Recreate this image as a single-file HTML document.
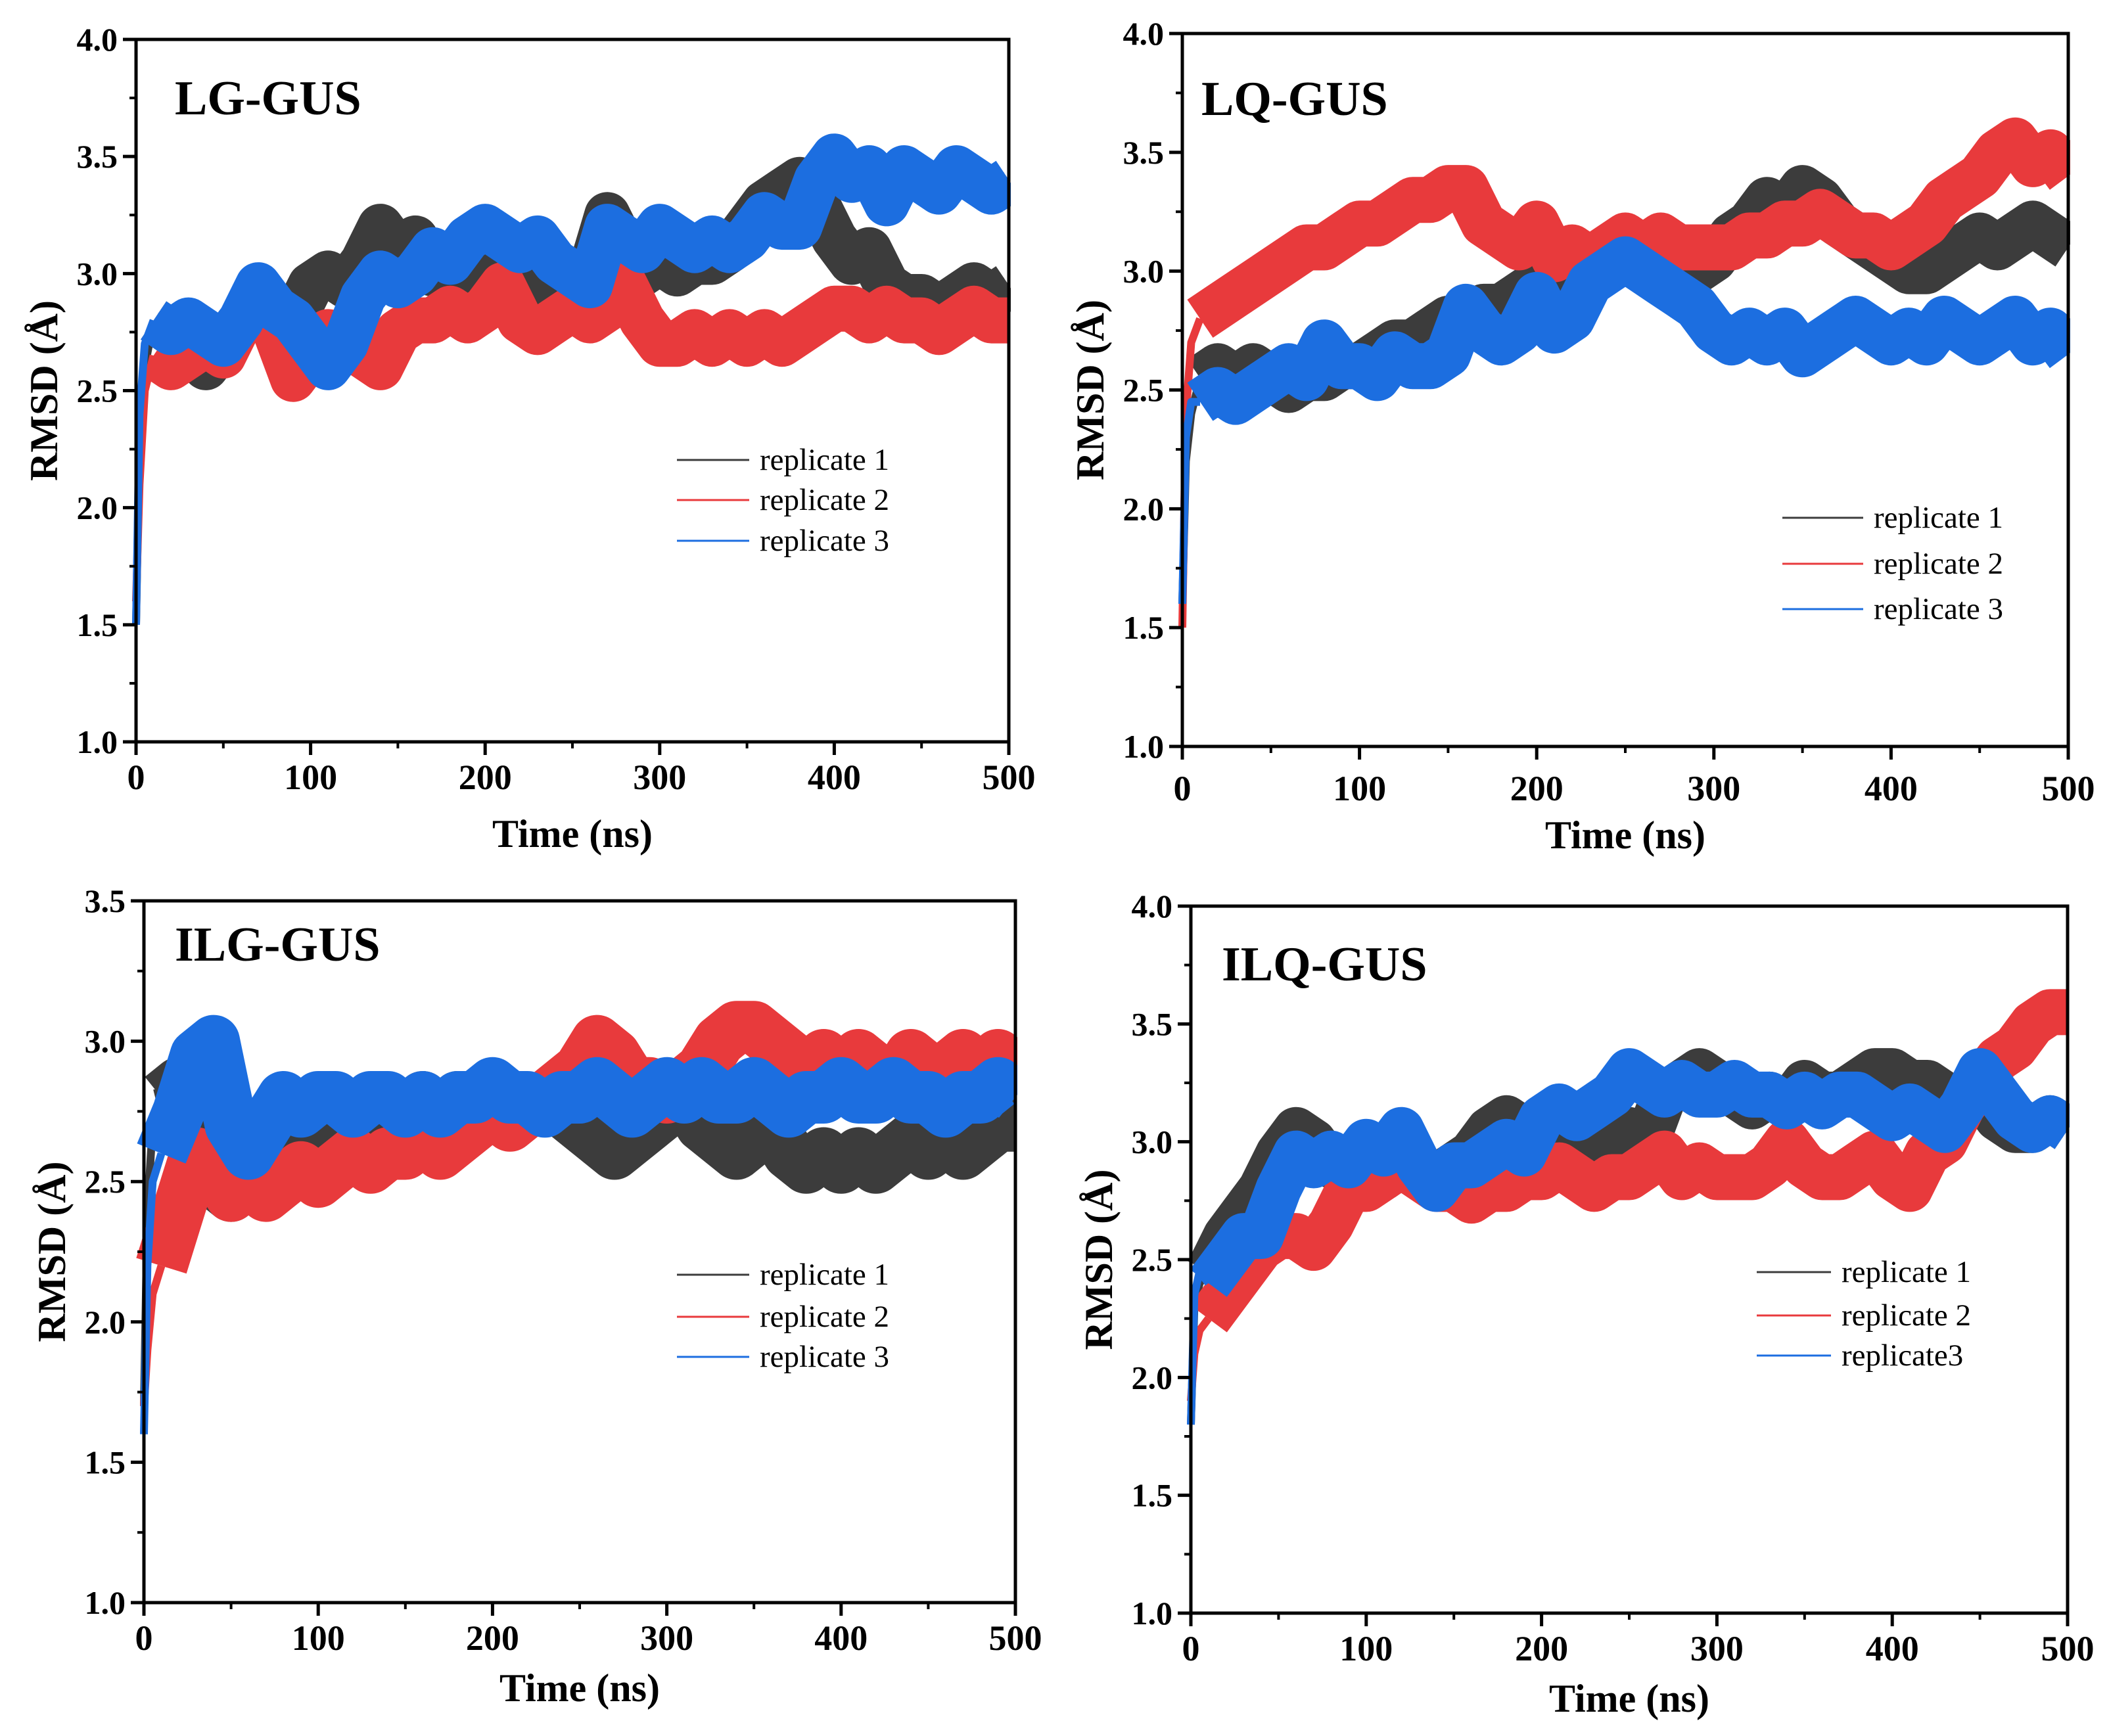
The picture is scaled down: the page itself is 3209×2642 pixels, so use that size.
<!DOCTYPE html>
<html><head><meta charset="utf-8">
<style>
html,body{margin:0;padding:0;background:#fff;}
svg{display:block;}
text{font-family:"Liberation Serif",serif;}
</style></head>
<body>
<svg id="fig" width="3209" height="2642" viewBox="0 0 3209 2642" xmlns="http://www.w3.org/2000/svg"></svg>
<script>
const times=[0,2,5,10,20,30,40,50,60,70,80,90,100,110,120,130,140,150,160,170,180,190,200,210,220,230,240,250,260,270,280,290,300,310,320,330,340,350,360,370,380,390,400,410,420,430,440,450,460,470,480,490,500];
const xTicks=[0,100,200,300,400,500];
const yTicks4=[1.0,1.5,2.0,2.5,3.0,3.5,4.0];
const yTicks35=[1.0,1.5,2.0,2.5,3.0,3.5];
const seriesNames=["replicate 1","replicate 2","replicate 3"];
const seriesNamesB=["replicate 1","replicate 2","replicate3"];
const lgGray=[1.5,2.3,2.6,2.8,2.75,2.7,2.6,2.7,2.8,2.9,2.85,2.8,2.95,3.0,2.95,3.05,3.2,3.1,3.15,3.0,3.05,3.0,3.05,3.0,2.95,2.9,3.0,2.95,3.0,3.25,3.1,3.0,3.05,3.0,3.05,3.05,3.1,3.2,3.3,3.35,3.4,3.3,3.15,3.05,3.1,2.95,2.9,2.9,2.85,2.9,2.95,2.9,2.95];
const lgRed=[1.6,2.1,2.5,2.65,2.6,2.65,2.7,2.65,2.8,2.9,2.75,2.55,2.65,2.75,2.7,2.65,2.6,2.75,2.8,2.8,2.85,2.8,2.85,2.95,2.8,2.75,2.8,2.85,2.8,2.85,2.95,2.8,2.7,2.7,2.75,2.7,2.75,2.7,2.75,2.7,2.75,2.8,2.85,2.85,2.8,2.85,2.8,2.8,2.75,2.8,2.85,2.8,2.8];
const lgBlue=[1.5,2.4,2.7,2.8,2.75,2.8,2.75,2.7,2.8,2.95,2.85,2.8,2.7,2.6,2.7,2.9,3.0,2.95,3.0,3.1,3.05,3.15,3.2,3.15,3.1,3.15,3.05,3.0,2.95,3.2,3.15,3.1,3.2,3.15,3.1,3.15,3.1,3.15,3.25,3.2,3.2,3.4,3.5,3.4,3.45,3.3,3.45,3.4,3.35,3.45,3.4,3.35,3.4];
const lqGray=[1.6,2.2,2.4,2.55,2.6,2.55,2.6,2.55,2.5,2.55,2.55,2.6,2.6,2.65,2.7,2.7,2.75,2.8,2.8,2.85,2.85,2.9,2.95,2.9,2.95,3.0,3.05,3.05,3.05,3.0,2.95,3.0,3.05,3.15,3.2,3.3,3.25,3.35,3.3,3.2,3.15,3.1,3.05,3.0,3.0,3.05,3.1,3.15,3.1,3.15,3.2,3.15,3.1];
const lqRed=[1.5,2.4,2.7,2.8,2.85,2.9,2.95,3.0,3.05,3.1,3.1,3.15,3.2,3.2,3.25,3.3,3.3,3.35,3.35,3.2,3.15,3.1,3.2,3.05,3.1,3.05,3.1,3.15,3.1,3.15,3.1,3.1,3.1,3.1,3.15,3.15,3.2,3.2,3.25,3.2,3.15,3.15,3.1,3.15,3.2,3.3,3.35,3.4,3.5,3.55,3.45,3.5,3.4];
const lqBlue=[1.6,2.3,2.45,2.45,2.5,2.45,2.5,2.55,2.6,2.55,2.7,2.6,2.6,2.55,2.65,2.6,2.6,2.65,2.85,2.75,2.7,2.75,2.9,2.75,2.8,2.95,3.0,3.05,3.0,2.95,2.9,2.85,2.75,2.7,2.75,2.7,2.75,2.65,2.7,2.75,2.8,2.75,2.7,2.75,2.7,2.8,2.75,2.7,2.75,2.8,2.7,2.75,2.65];
const ilgGray=[1.7,2.4,2.7,2.8,2.85,2.6,2.5,2.45,2.55,2.6,2.7,2.65,2.7,2.75,2.7,2.75,2.7,2.75,2.8,2.75,2.8,2.8,2.75,2.8,2.75,2.8,2.75,2.7,2.65,2.6,2.65,2.7,2.75,2.8,2.7,2.65,2.6,2.65,2.7,2.6,2.55,2.6,2.55,2.6,2.55,2.6,2.65,2.6,2.65,2.6,2.65,2.7,2.7];
const ilgRed=[1.7,1.9,2.1,2.2,2.4,2.6,2.55,2.45,2.5,2.45,2.5,2.55,2.5,2.55,2.6,2.55,2.6,2.6,2.65,2.6,2.65,2.7,2.75,2.7,2.75,2.8,2.85,2.9,3.0,2.95,2.85,2.85,2.8,2.85,2.9,3.0,3.05,3.05,3.0,2.95,2.9,2.95,2.9,2.95,2.9,2.85,2.95,2.9,2.9,2.95,2.9,2.95,2.9];
const ilgBlue=[1.6,2.2,2.5,2.6,2.75,2.95,3.0,2.7,2.6,2.7,2.8,2.75,2.8,2.8,2.75,2.8,2.8,2.75,2.8,2.75,2.8,2.8,2.85,2.8,2.8,2.75,2.8,2.8,2.85,2.8,2.75,2.8,2.85,2.8,2.85,2.8,2.8,2.85,2.8,2.75,2.8,2.8,2.85,2.8,2.8,2.85,2.8,2.8,2.75,2.8,2.8,2.85,2.8];
const ilqGray=[1.8,2.3,2.4,2.45,2.6,2.7,2.8,2.95,3.05,3.0,2.9,2.9,2.9,2.85,2.95,2.9,2.85,2.9,2.95,3.05,3.1,3.05,3.0,2.95,3.0,2.95,3.0,3.05,3.0,3.2,3.25,3.3,3.25,3.2,3.15,3.2,3.15,3.25,3.2,3.2,3.25,3.3,3.3,3.25,3.25,3.2,3.15,3.2,3.1,3.05,3.05,3.1,3.05];
const ilqRed=[1.9,2.1,2.2,2.25,2.35,2.45,2.55,2.6,2.6,2.55,2.65,2.8,2.8,2.85,2.9,2.85,2.8,2.8,2.75,2.8,2.8,2.85,2.85,2.9,2.85,2.8,2.85,2.85,2.9,2.95,2.85,2.9,2.85,2.85,2.85,2.9,3.0,2.9,2.85,2.85,2.9,2.95,2.85,2.8,2.95,3.0,3.15,3.25,3.35,3.4,3.5,3.55,3.55];
const ilqBlue=[1.8,2.35,2.45,2.4,2.5,2.6,2.6,2.8,2.95,2.9,2.95,2.9,3.0,2.95,3.05,2.9,2.8,2.9,2.9,2.95,3.0,2.95,3.1,3.15,3.1,3.15,3.2,3.3,3.25,3.2,3.25,3.2,3.2,3.25,3.2,3.2,3.15,3.2,3.15,3.2,3.2,3.15,3.1,3.15,3.1,3.05,3.15,3.3,3.2,3.1,3.05,3.1,3.05];

const NS="http://www.w3.org/2000/svg";
const svg=document.getElementById('fig');
const colors=["#3c3c3c","#e83a3c","#1c6ee0"];
function mk(tag,parent,attrs){const e=document.createElementNS(NS,tag);for(const k in attrs)e.setAttribute(k,attrs[k]);parent.appendChild(e);return e;}

function panel(p){
  const g=mk('g',svg,{});
  
  
  const yMin=p.yTicks[0],yMax=p.yTicks[p.yTicks.length-1];
  const X=t=>p.x0+(t-0)/(500-0)*(p.x1-p.x0);
  const Y=v=>p.y1-(v-yMin)/(yMax-yMin)*(p.y1-p.y0);
  p.series.forEach((vals,i)=>{
    const pts=vals.map((v,j)=>[X(times[j]),Y(v)]);
    const early=pts.slice(0,4).map((q,j)=>(j?'L':'M')+q[0].toFixed(1)+','+q[1].toFixed(1)).join('');
    const e=mk('path',g,{d:early,fill:'none',stroke:colors[i],'stroke-width':12,'stroke-linejoin':'round'});
    
    
    const d=pts.slice(3).map((q,j)=>(j?'L':'M')+q[0].toFixed(1)+','+q[1].toFixed(1)).join('');
    const path=mk('path',g,{d:d,fill:'none',stroke:colors[i],'stroke-width':p.sw,'stroke-linejoin':'round','stroke-linecap':'butt'});
    
    
  });
  const fr=mk('rect',g,{x:p.x0,y:p.y0,width:p.x1-p.x0,height:p.y1-p.y0,fill:'none',stroke:'#000','stroke-width':5});
  
  
  const wm=mk('rect',g,{x:p.x1+3,y:p.y0,width:60,height:p.y1-p.y0,fill:'#fff'});
  
  
  for(let k=0;k<p.yTicks.length;k++){
    const v=p.yTicks[k];
    mk('line',g,{x1:p.x0-20,x2:p.x0,y1:Y(v),y2:Y(v),stroke:'#000','stroke-width':5});
    if(k<p.yTicks.length-1){const m=(v+p.yTicks[k+1])/2;mk('line',g,{x1:p.x0-10,x2:p.x0,y1:Y(m),y2:Y(m),stroke:'#000','stroke-width':4});}
    const t=mk('text',g,{x:p.x0-28,y:Y(v)+17,'text-anchor':'end','font-size':50,'font-weight':'bold'});
    t.textContent=v.toFixed(1);
    
    
  }
  for(let k=0;k<xTicks.length;k++){
    const v=xTicks[k];
    mk('line',g,{x1:X(v),x2:X(v),y1:p.y1,y2:p.y1+20,stroke:'#000','stroke-width':5});
    if(k<xTicks.length-1){const m=(v+xTicks[k+1])/2;mk('line',g,{x1:X(m),x2:X(m),y1:p.y1,y2:p.y1+10,stroke:'#000','stroke-width':4});}
    const t=mk('text',g,{x:X(v),y:p.y1+p.xl,'text-anchor':'middle','font-size':54,'font-weight':'bold'});
    t.textContent=v;
    
    
  }
  const xt=mk('text',g,{x:(p.x0+p.x1)/2,y:p.y1+p.xt,'text-anchor':'middle','font-size':60,'font-weight':'bold'});
  xt.textContent='Time (ns)';
  
  
  const yc=(p.y0+p.y1)/2;
  const yt=mk('text',g,{x:p.x0-120,y:yc,'text-anchor':'middle','font-size':60,'font-weight':'bold',transform:'rotate(-90 '+(p.x0-120)+' '+yc+')'});
  yt.textContent='RMSD (Å)';
  
  
  const ti=mk('text',g,{x:p.tx,y:p.ty,'font-size':74,'font-weight':'bold'});
  ti.textContent=p.title;
  
  
  p.names.forEach((n,i)=>{
    const ly=p.ly[i];
    const ln=mk('line',g,{x1:p.lx1,x2:p.lx2,y1:ly,y2:ly,stroke:colors[i],'stroke-width':3});
    
    
    const lt=mk('text',g,{x:p.lx2+16,y:ly+15,'font-size':47});
    lt.textContent=n;
    
    
  });
}
panel({id:'lg-gus',title:'LG-GUS',x0:207,x1:1535,y0:60,y1:1129,yTicks:yTicks4,series:[lgGray,lgRed,lgBlue],names:seriesNames,tx:266,ty:174,lx1:1030,lx2:1140,ly:[700,761,823],xl:72,xt:160,sw:70});
panel({id:'lq-gus',title:'LQ-GUS',x0:1799,x1:3147,y0:51,y1:1136,yTicks:yTicks4,series:[lqGray,lqRed,lqBlue],names:seriesNames,tx:1828,ty:175,lx1:2712,lx2:2835,ly:[788,858,927],xl:82,xt:155,sw:70});
panel({id:'ilg-gus',title:'ILG-GUS',x0:219,x1:1545,y0:1371,y1:2439,yTicks:yTicks35,series:[ilgGray,ilgRed,ilgBlue],names:seriesNames,tx:266,ty:1462,lx1:1030,lx2:1140,ly:[1940,2004,2065],xl:72,xt:150,sw:80});
panel({id:'ilq-gus',title:'ILQ-GUS',x0:1812,x1:3146,y0:1379,y1:2455,yTicks:yTicks4,series:[ilqGray,ilqRed,ilqBlue],names:seriesNamesB,tx:1859,ty:1492,lx1:2673,lx2:2786,ly:[1936,2002,2063],xl:72,xt:150,sw:70});
</script>
</body></html>
